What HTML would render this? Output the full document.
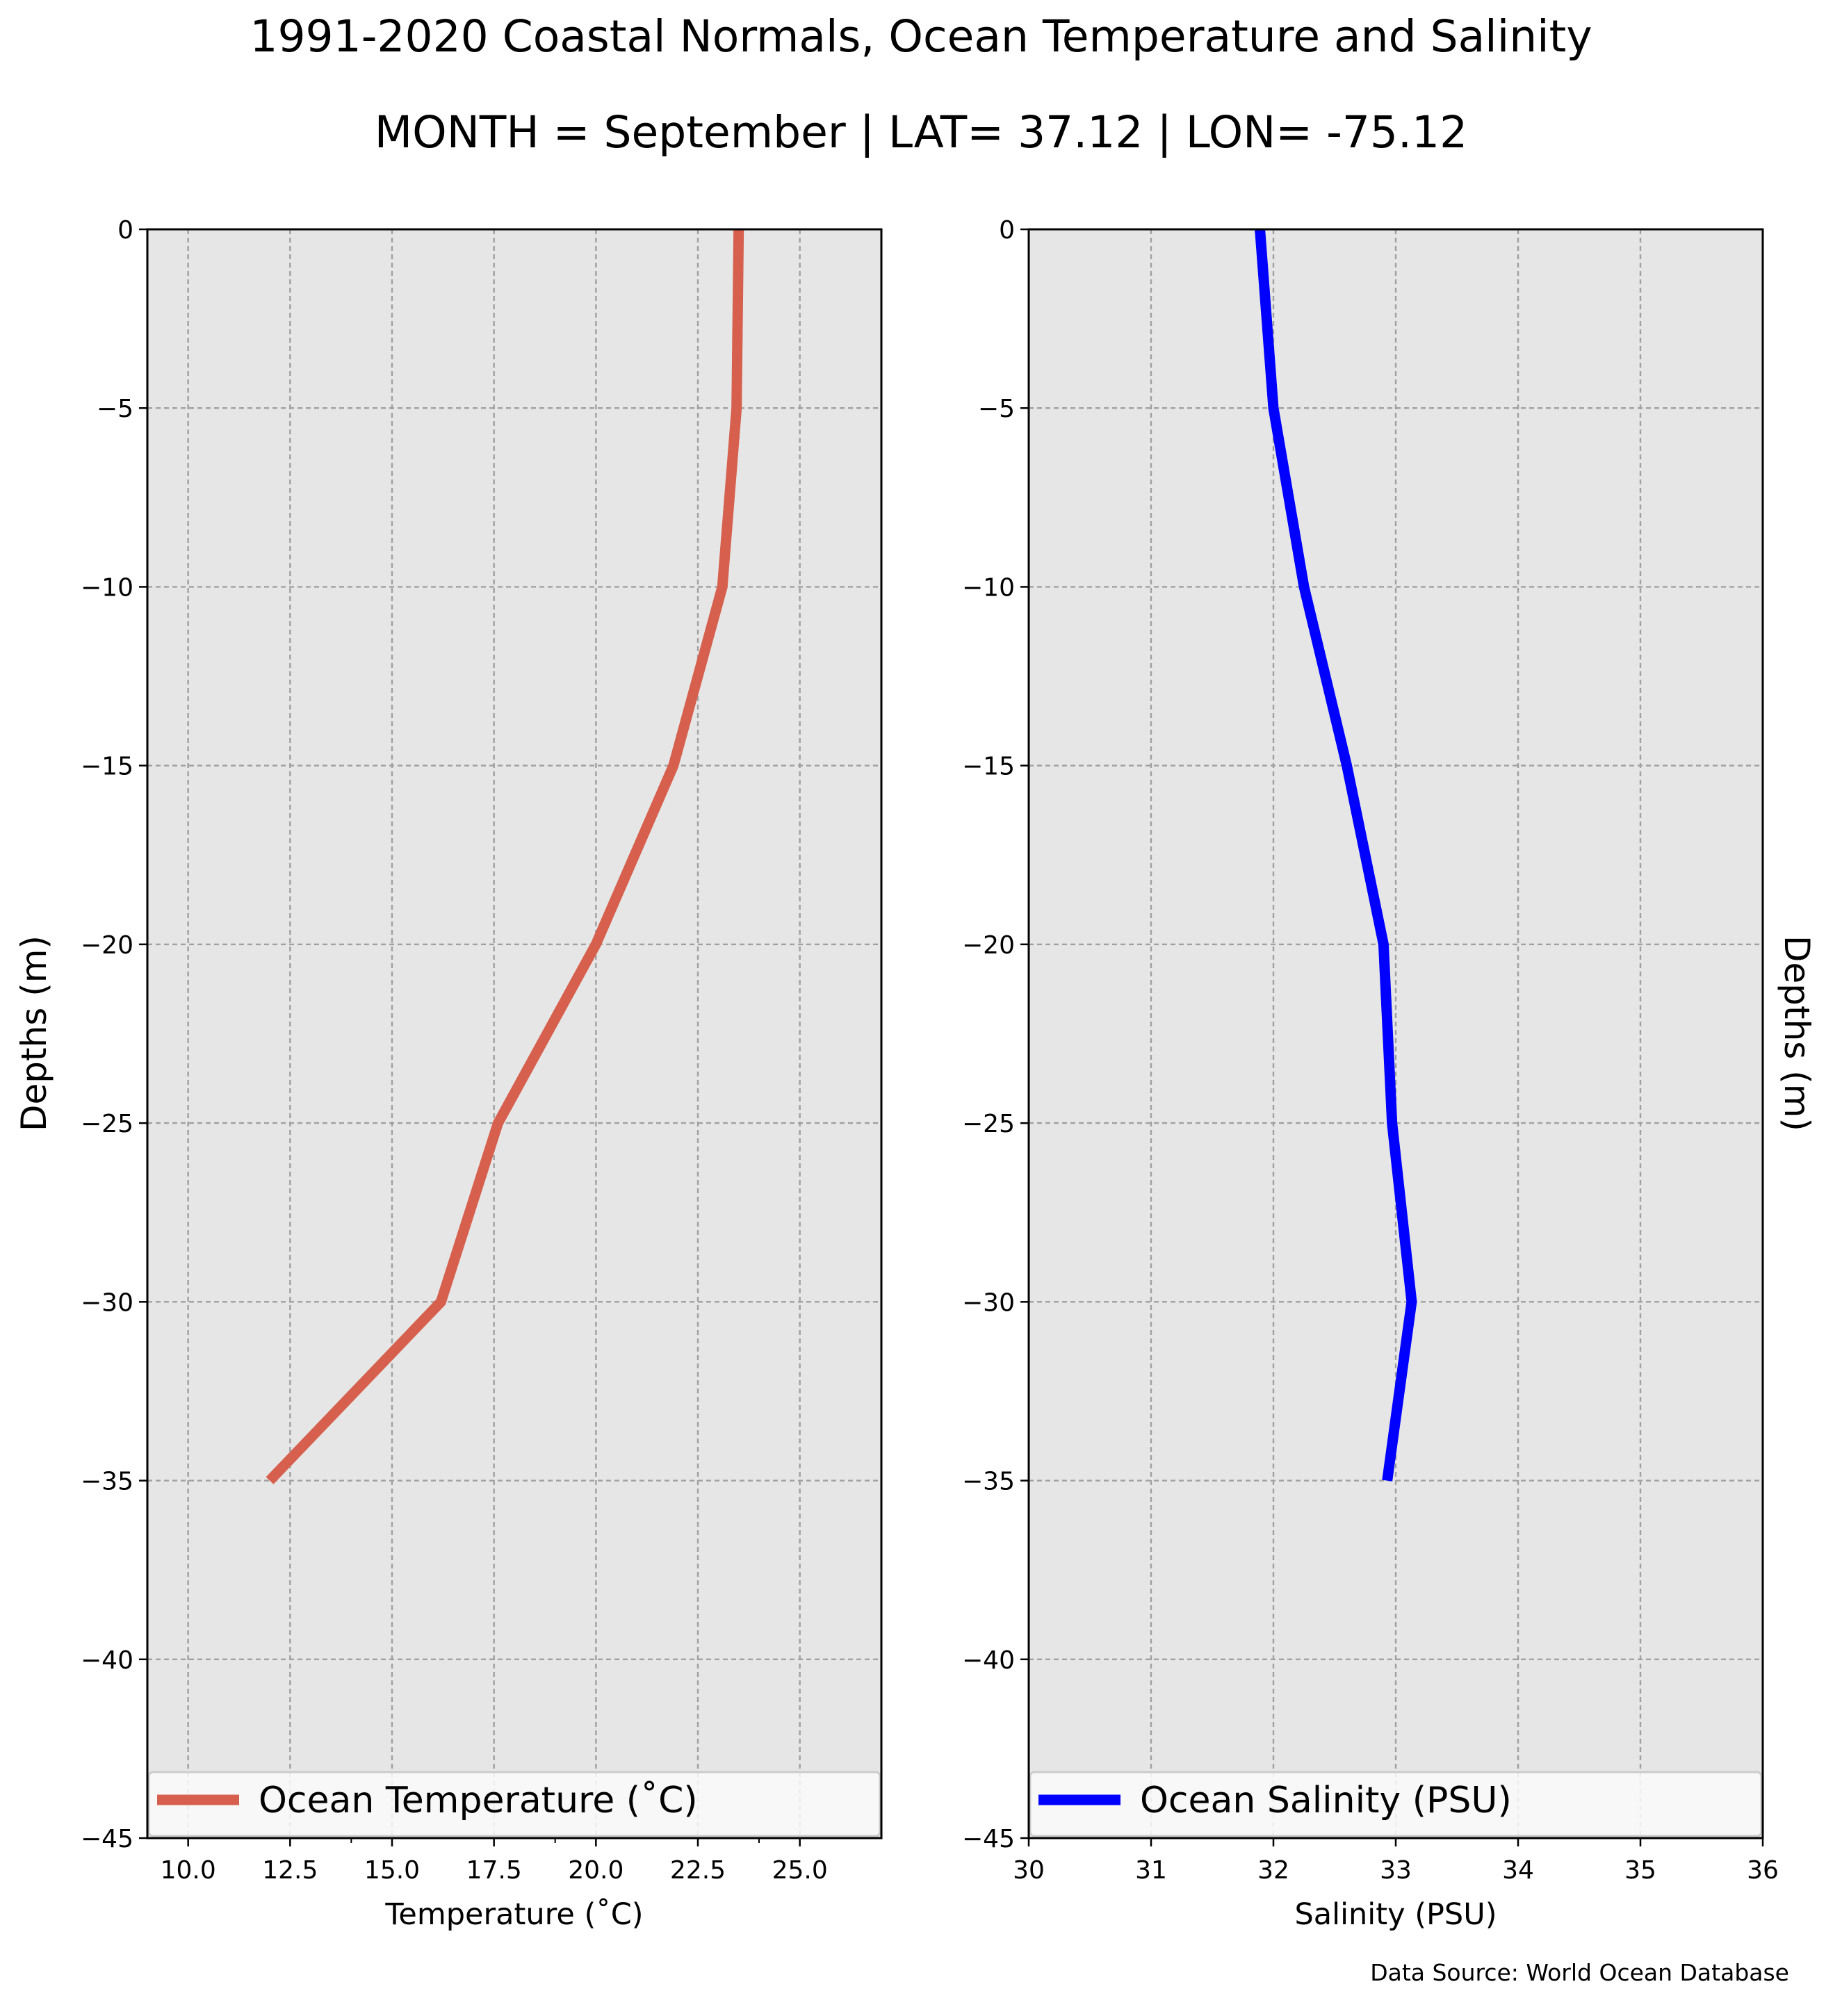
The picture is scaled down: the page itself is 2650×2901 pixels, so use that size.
<!DOCTYPE html>
<html><head><meta charset="utf-8"><style>
html,body{margin:0;padding:0;background:#fff;}
svg{display:block;font-family:"DejaVu Sans","Liberation Sans",sans-serif;}
</style></head><body>
<svg id="fig" width="2650" height="2901" viewBox="0 0 2650 2901" xmlns="http://www.w3.org/2000/svg">
<rect width="2650" height="2901" fill="#fff"/>
<text x="1325" y="74" font-size="63" text-anchor="middle">1991-2020 Coastal Normals, Ocean Temperature and Salinity</text>
<text x="1325" y="212" font-size="63" text-anchor="middle">MONTH = September | LAT= 37.12 | LON= -75.12</text>
<text transform="translate(66,1487) rotate(-90)" font-size="50" text-anchor="middle">Depths (m)</text>
<text transform="translate(2568,1487) rotate(90)" font-size="50" text-anchor="middle">Depths (m)</text>
<text x="2574" y="2850" font-size="33" text-anchor="end">Data Source: World Ocean Database</text>
<g id="p1"></g>
<g id="p2"></g>
</svg>
<script>
const depths = [0, -5, -10, -15, -20, -25, -30, -35];
const temperature = [23.5, 23.45, 23.1, 21.9, 20.0, 17.6, 16.2, 12.0];
const salinity = [31.89, 32.0, 32.25, 32.6, 32.9, 32.97, 33.13, 32.93];
const depthTicks = [0, -5, -10, -15, -20, -25, -30, -35, -40, -45];
const tempTicks = [10.0, 12.5, 15.0, 17.5, 20.0, 22.5, 25.0];
const tempMinorTicks = [14, 19, 24];
const salTicks = [30, 31, 32, 33, 34, 35, 36];

const NS = "http://www.w3.org/2000/svg";
function mk(tag, attrs, parent) {
  const e = document.createElementNS(NS, tag);
  for (const k in attrs) e.setAttribute(k, attrs[k]);
  parent.appendChild(e);
  return e;
}
const TOP = 330, BOT = 2645;
const yS = d => TOP + (0 - d) / 45 * (BOT - TOP);

function panel(g, x0, x1, xmin, xmax, xticks, minor, fmt, vals, color, legendText, xlabel, key) {
  const xS = v => x0 + (v - xmin) / (xmax - xmin) * (x1 - x0);
  const bg = mk('rect', {x: x0, y: TOP, width: x1 - x0, height: BOT - TOP, fill: '#e6e6e6'}, g);
  
  
  xticks.forEach(t => {
    const l = mk('line', {x1: xS(t), x2: xS(t), y1: TOP, y2: BOT, stroke: '#a0a0a0', 'stroke-width': 2.4, 'stroke-dasharray': '7,5'}, g);
    
    
  });
  depthTicks.forEach(t => {
    const l = mk('line', {x1: x0, x2: x1, y1: yS(t), y2: yS(t), stroke: '#a0a0a0', 'stroke-width': 2.4, 'stroke-dasharray': '7,5'}, g);
    
    
  });
  const pts = vals.map((v, i) => xS(v).toFixed(1) + ',' + yS(depths[i]).toFixed(1)).join(' ');
  const pl = mk('polyline', {points: pts, fill: 'none', stroke: color, 'stroke-width': 15, 'stroke-linejoin': 'miter'}, g);
  
  
  const lg = mk('g', {}, g);
  
  
  mk('rect', {x: x0 + 2, y: 2550, width: x1 - x0 - 4, height: 92, rx: 6, fill: '#fafafa', 'fill-opacity': 0.85, stroke: '#cccccc', 'stroke-width': 3}, lg);
  mk('line', {x1: x0 + 14, x2: x0 + 132, y1: 2590, y2: 2590, stroke: color, 'stroke-width': 15}, lg);
  const lt = mk('text', {x: x0 + 160, y: 2608, 'font-size': 52}, lg);
  lt.textContent = legendText;
  mk('rect', {x: x0, y: TOP, width: x1 - x0, height: BOT - TOP, fill: 'none', stroke: '#000', 'stroke-width': 3}, g);
  depthTicks.forEach(t => {
    mk('line', {x1: x0 - 12, x2: x0, y1: yS(t), y2: yS(t), stroke: '#000', 'stroke-width': 2.5}, g);
    const tx = mk('text', {x: x0 - 20, y: yS(t) + 13, 'font-size': 36, 'text-anchor': 'end'}, g);
    
    
    tx.textContent = t < 0 ? '\u2212' + Math.abs(t) : String(t);
  });
  xticks.forEach(t => {
    mk('line', {x1: xS(t), x2: xS(t), y1: BOT, y2: BOT + 12, stroke: '#000', 'stroke-width': 2.5}, g);
    const tx = mk('text', {x: xS(t), y: BOT + 58, 'font-size': 36, 'text-anchor': 'middle'}, g);
    
    
    tx.textContent = fmt(t);
  });
  minor.forEach(t => {
    mk('line', {x1: xS(t), x2: xS(t), y1: BOT, y2: BOT + 7, stroke: '#000', 'stroke-width': 2}, g);
  });
  const xl = mk('text', {x: (x0 + x1) / 2, y: BOT + 124, 'font-size': 43, 'text-anchor': 'middle'}, g);
  
  
  xl.textContent = xlabel;
}
panel(document.getElementById('p1'), 212, 1268, 9, 27, tempTicks, tempMinorTicks, t => t.toFixed(1), temperature, '#d6604d', 'Ocean Temperature (\u02daC)', 'Temperature (\u02daC)', 'temperature');
panel(document.getElementById('p2'), 1480, 2536, 30, 36, salTicks, [], t => String(t), salinity, '#0000ff', 'Ocean Salinity (PSU)', 'Salinity (PSU)', 'salinity');
</script>
</body></html>
